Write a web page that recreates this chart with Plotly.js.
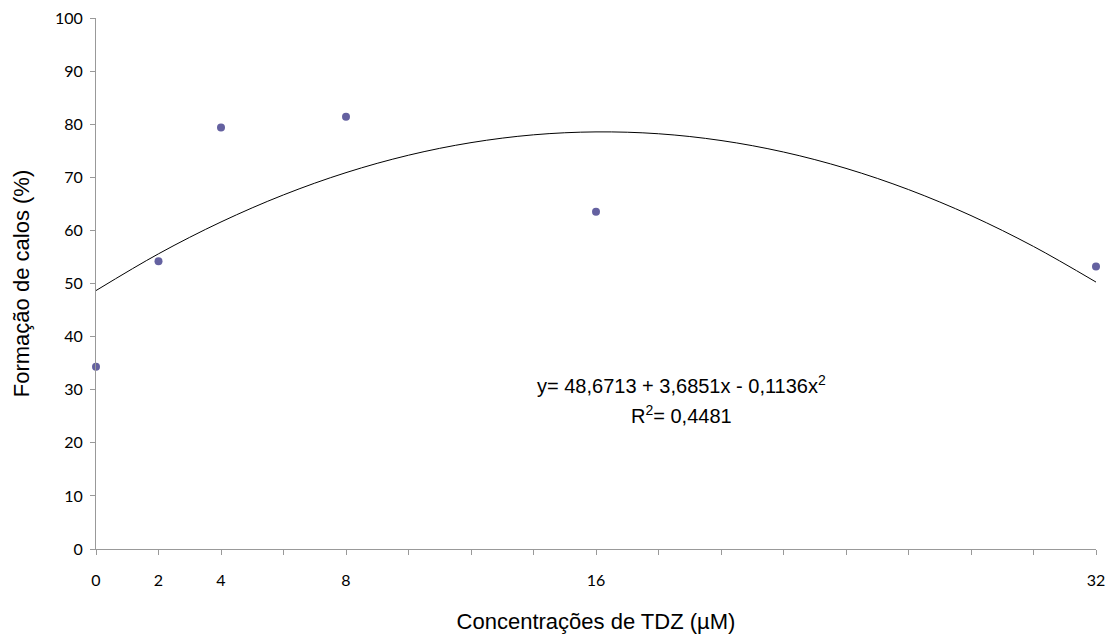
<!DOCTYPE html>
<html>
<head>
<meta charset="utf-8">
<script src="https://cdn.plot.ly/plotly-3.0.1.min.js"></script>
<style>html,body{margin:0;padding:0;background:#fff;}#chart{width:1107px;height:634px;}</style>
</head>
<body>
<div id="chart"></div>
<script>
// Observed data
const concentrations = [0, 2, 4, 8, 16, 32];
const callusFormation = [34.3, 54.2, 79.4, 81.4, 63.5, 53.2];

// Trendline values
const trendX = [0, 2, 4, 6, 8, 10, 12, 14, 16, 18, 20, 22, 24, 26, 28, 30, 32];
const trendY = [48.67, 55.59, 61.59, 66.69, 70.88, 74.16, 76.53, 78.00, 78.55, 78.20, 76.93, 74.76, 71.68, 67.69, 62.79, 56.98, 50.27];

// Axis ticks
const xTickVals = [0, 2, 4, 8, 16, 32];
const xTickText = ['0', '2', '4', '8', '16', '32'];
const xMinorTickVals = [6, 10, 12, 14, 18, 20, 22, 24, 26, 28, 30];
const yTickVals = [0, 10, 20, 30, 40, 50, 60, 70, 80, 90, 100];

const eqLine1 = 'y= 48,6713 + 3,6851x - 0,1136x<sup>2</sup>';
const eqLine2 = 'R<sup>2</sup>= 0,4481';

const traces = [
  {
    x: trendX, y: trendY, mode: 'lines', type: 'scatter',
    line: {color: '#000000', width: 1, shape: 'spline'},
    hoverinfo: 'skip', showlegend: false, cliponaxis: false
  },
  {
    x: concentrations, y: callusFormation, mode: 'markers', type: 'scatter',
    marker: {color: '#6461a0', size: 8},
    showlegend: false, cliponaxis: false
  }
];

const axisFont = {family: 'Lato, "Open Sans", sans-serif', size: 16, color: '#000'};
const titleFont = {family: '"Liberation Sans", Arial, sans-serif', size: 22, color: '#000'};
const eqFont = {family: '"Liberation Sans", Arial, sans-serif', size: 20, color: '#000'};

const layout = {
  width: 1107, height: 634,
  margin: {l: 96, r: 11, t: 18, b: 85},
  paper_bgcolor: '#fff', plot_bgcolor: '#fff',
  showlegend: false,
  xaxis: {
    range: [0, 32], tickmode: 'array', tickvals: xTickVals, ticktext: xTickText,
    ticks: 'outside', ticklen: 5, tickcolor: '#999', tickwidth: 1,
    ticklabelstandoff: 12,
    minor: {tickmode: 'array', tickvals: xMinorTickVals, ticks: 'outside', ticklen: 5, tickcolor: '#999', tickwidth: 1, showgrid: false},
    showline: true, linecolor: '#999', linewidth: 1,
    showgrid: false, zeroline: false, tickfont: axisFont,
    title: {text: 'Concentrações de TDZ (µM)', font: titleFont, standoff: 26}
  },
  yaxis: {
    range: [0, 100], tickmode: 'array', tickvals: yTickVals,
    ticks: 'outside', ticklen: 5, tickcolor: '#999', tickwidth: 1,
    ticklabelstandoff: 4,
    showline: true, linecolor: '#999', linewidth: 1,
    showgrid: false, zeroline: false, tickfont: axisFont,
    title: {text: 'Formação de calos (%)', font: titleFont, standoff: 19}
  },
  annotations: [
    {x: 18.75, y: 30.9, xref: 'x', yref: 'y', text: eqLine1, showarrow: false, font: eqFont},
    {x: 18.75, y: 25.4, xref: 'x', yref: 'y', text: eqLine2, showarrow: false, font: eqFont}
  ]
};

Plotly.newPlot('chart', traces, layout, {displayModeBar: false, staticPlot: true});
</script>
</body>
</html>
